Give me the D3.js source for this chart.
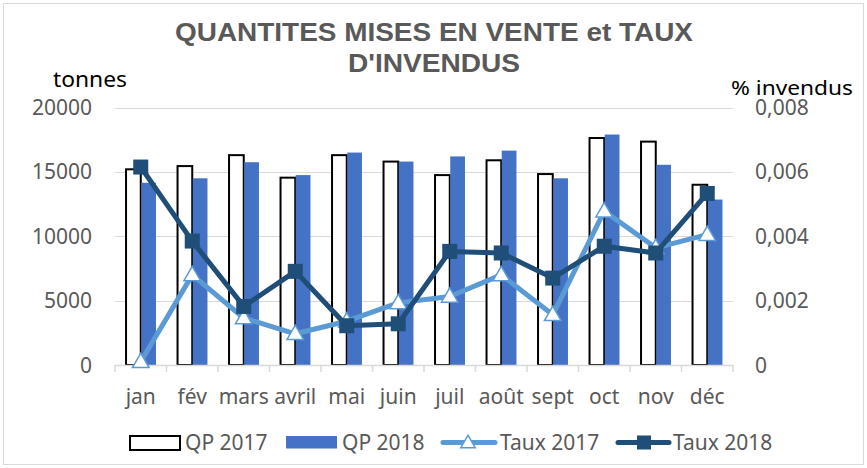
<!DOCTYPE html>
<html lang="fr">
<head>
<meta charset="UTF-8">
<title>Quantités mises en vente</title>
<style>
  body { margin:0; background:#fff; }
  svg { display:block; }
  text { font-family: "Noto Sans", sans-serif; }
</style>
</head>
<body>
<svg width="867" height="468"></svg>
<script src="https://cdnjs.cloudflare.com/ajax/libs/d3/7.8.5/d3.min.js"></script>
<script>
// data
const months = ["jan", "fév", "mars", "avril", "mai", "juin", "juil", "août", "sept", "oct", "nov", "déc"];
const qp2017 = [15200, 15450, 16300, 14550, 16300, 15800, 14750, 15900, 14830, 17630, 17350, 14000];
const qp2018 = [14150, 14500, 15750, 14750, 16500, 15800, 16200, 16650, 14500, 17900, 15550, 12850];
const taux2017 = [0.0001, 0.0028, 0.00146, 0.00097, 0.00136, 0.00193, 0.00213, 0.0028, 0.00156, 0.00478, 0.00364, 0.00405];
const taux2018 = [0.00615, 0.00385, 0.00182, 0.00291, 0.00122, 0.00128, 0.00353, 0.00348, 0.0027, 0.00369, 0.00348, 0.00533];
const leftTicks = [0, 5000, 10000, 15000, 20000];
const rightTicks = [0, 0.002, 0.004, 0.006, 0.008];

const grey = "#595959", gridC = "#d9d9d9";
const c2018 = "#4472C4", cT17 = "#5B9BD5", cT18 = "#1F4E79";

const svg = d3.select("svg");

svg.append("rect")
  .attr("x", 3.5).attr("y", 3.5).attr("width", 860).attr("height", 461)
  .attr("fill", "#fff").attr("stroke", gridC);

const x = d3.scaleBand().domain(months).range([115, 733]).padding(0);
const xs = d3.scaleBand().domain(["2017", "2018"]).range([0, x.bandwidth()])
  .paddingInner(0).paddingOuter(0.75);
const y = d3.scaleLinear().domain([0, 20000]).range([365, 107.5]);
const y2 = d3.scaleLinear().domain([0, 0.008]).range([365, 107.5]);

// grid
svg.append("g").selectAll("line").data(leftTicks.slice(1)).join("line")
  .attr("x1", 115).attr("x2", 733)
  .attr("y1", d => Math.round(y(d)) + 0.5).attr("y2", d => Math.round(y(d)) + 0.5)
  .attr("stroke", gridC).attr("stroke-width", 1);

// left axis labels
svg.append("g").selectAll("text").data(leftTicks).join("text")
  .attr("x", 92).attr("y", d => y(d)).attr("dy", "0.36em")
  .attr("text-anchor", "end").attr("fill", grey).attr("font-size", 21)
  .text(d => d);

// right axis labels
const fr = d3.formatLocale({decimal: ",", thousands: " ", grouping: [3], currency: ["", "€"]});
const f3 = fr.format(".3f");
svg.append("g").selectAll("text").data(rightTicks).join("text")
  .attr("x", 755).attr("y", d => y2(d)).attr("dy", "0.36em")
  .attr("fill", grey).attr("font-size", 21)
  .text(d => d === 0 ? "0" : f3(d));

// bars
const bars = svg.append("g");
bars.selectAll("rect.b17").data(qp2017).join("rect").attr("class", "b17")
  .attr("x", (d, i) => x(months[i]) + xs("2017"))
  .attr("y", d => y(d))
  .attr("width", xs.bandwidth())
  .attr("height", d => y(0) - y(d))
  .attr("fill", "#fff").attr("stroke", "#000").attr("stroke-width", 2);
bars.selectAll("rect.b18").data(qp2018).join("rect").attr("class", "b18")
  .attr("x", (d, i) => x(months[i]) + xs("2018") + 0.5)
  .attr("y", d => y(d))
  .attr("width", xs.bandwidth())
  .attr("height", d => y(0) - y(d))
  .attr("fill", c2018);

// x axis
const xa = svg.append("g");
xa.append("line").attr("x1", 115).attr("x2", 733).attr("y1", 365.5).attr("y2", 365.5)
  .attr("stroke", gridC).attr("stroke-width", 1.5);
xa.selectAll("line.tk").data(months.concat(["end"])).join("line").attr("class", "tk")
  .attr("x1", (d, i) => i < 12 ? x(d) : 733).attr("x2", (d, i) => i < 12 ? x(d) : 733)
  .attr("y1", 365).attr("y2", 372)
  .attr("stroke", gridC).attr("stroke-width", 1.5);
xa.selectAll("text").data(months).join("text")
  .attr("x", d => x(d) + x.bandwidth() / 2).attr("y", 404)
  .attr("text-anchor", "middle").attr("fill", grey).attr("font-size", 21)
  .text(d => d);

// lines
const cx = i => x(months[i]) + x.bandwidth() / 2;
const line = d3.line().x((d, i) => cx(i)).y(d => y2(d));

svg.append("path").datum(taux2017).attr("d", line)
  .attr("fill", "none").attr("stroke", cT17).attr("stroke-width", 5).attr("stroke-linejoin", "round");
svg.append("g").selectAll("path").data(taux2017).join("path")
  .attr("transform", (d, i) => `translate(${cx(i)},${y2(d) + 1})`)
  .attr("d", d3.symbol(d3.symbolTriangle, 120))
  .attr("fill", "#fff").attr("stroke", cT17).attr("stroke-width", 1.5);

svg.append("path").datum(taux2018).attr("d", line)
  .attr("fill", "none").attr("stroke", cT18).attr("stroke-width", 5).attr("stroke-linejoin", "round");
svg.append("g").selectAll("rect").data(taux2018).join("rect")
  .attr("x", (d, i) => cx(i) - 7.5).attr("y", d => y2(d) - 7.5)
  .attr("width", 15).attr("height", 15).attr("fill", cT18);

// titles
svg.append("text").attr("x", 175).attr("y", 41)
  .attr("font-weight", "bold").attr("font-size", 25).attr("fill", grey)
  .attr("textLength", 518).attr("lengthAdjust", "spacingAndGlyphs")
  .style("font-family", "'Liberation Sans', Arial, sans-serif")
  .text("QUANTITES MISES EN VENTE et TAUX");
svg.append("text").attr("x", 348).attr("y", 71.5)
  .attr("font-weight", "bold").attr("font-size", 25).attr("fill", grey)
  .attr("textLength", 172).attr("lengthAdjust", "spacingAndGlyphs")
  .style("font-family", "'Liberation Sans', Arial, sans-serif")
  .text("D'INVENDUS");
svg.append("text").attr("x", 53).attr("y", 86.5).attr("font-size", 21).attr("fill", "#000")
  .attr("textLength", 74).attr("lengthAdjust", "spacingAndGlyphs")
  .text("tonnes");
svg.append("text").attr("x", 731).attr("y", 94.5).attr("font-size", 20).attr("fill", "#000")
  .attr("textLength", 122).attr("lengthAdjust", "spacingAndGlyphs")
  .text("% invendus");

// legend
const lg = svg.append("g");
lg.append("rect").attr("x", 130).attr("y", 436).attr("width", 50).attr("height", 14)
  .attr("fill", "#fff").attr("stroke", "#000").attr("stroke-width", 2);
lg.append("rect").attr("x", 286).attr("y", 436).attr("width", 51).attr("height", 12.5)
  .attr("fill", c2018);
lg.append("line").attr("x1", 443).attr("x2", 495).attr("y1", 442.5).attr("y2", 442.5)
  .attr("stroke", cT17).attr("stroke-width", 5).attr("stroke-linecap", "round");
lg.append("path").attr("transform", "translate(468,443.5)")
  .attr("d", d3.symbol(d3.symbolTriangle, 90))
  .attr("fill", "#fff").attr("stroke", cT17).attr("stroke-width", 1.5);
lg.append("line").attr("x1", 618).attr("x2", 669).attr("y1", 442.5).attr("y2", 442.5)
  .attr("stroke", cT18).attr("stroke-width", 5).attr("stroke-linecap", "round");
lg.append("rect").attr("x", 637).attr("y", 435.5).attr("width", 14).attr("height", 14)
  .attr("fill", cT18);
const legendItems = [["QP 2017", 185], ["QP 2018", 342], ["Taux 2017", 500], ["Taux 2018", 673]];
lg.selectAll("text").data(legendItems).join("text")
  .attr("x", d => d[1]).attr("y", 450).attr("font-size", 21).attr("fill", grey)
  .text(d => d[0]);
</script>
</body>
</html>
